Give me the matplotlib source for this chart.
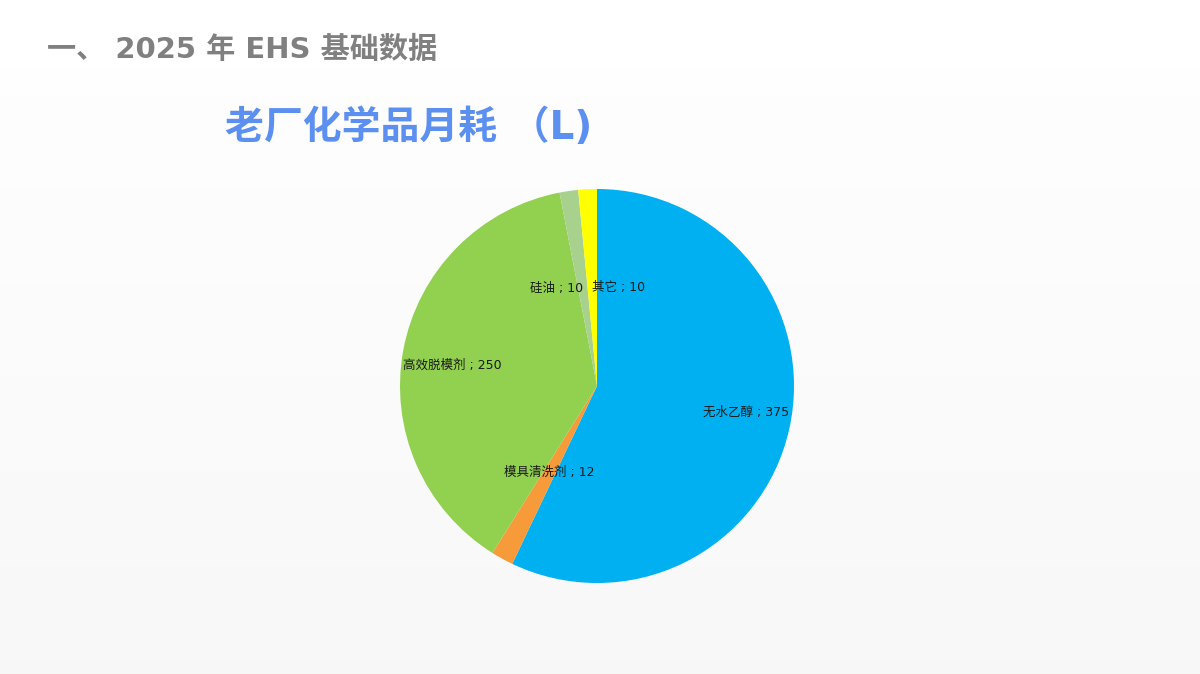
import numpy as np
import matplotlib.pyplot as plt

plt.rcParams['font.family'] = ['DejaVu Sans', 'Noto Sans CJK SC']

labels = ['无水乙醇', '模具清洗剂', '高效脱模剂', '硅油', '其它']
values = [375, 12, 250, 10, 10]
colors = ['#00B0F0', '#F79A3A', '#92D050', '#A9D18E', '#FFFF00']
# label placement: radius fraction, angle shift (deg), alignment
lab_r = [0.77, 0.5, 0.74, 0.5, 0.5]
lab_shift = [2.8, 0, 2.5, 0, 0]
lab_ha = ['center', 'center', 'center', 'right', 'left']

fig = plt.figure(figsize=(12, 6.74), dpi=100)

# background: white band on top, faint grey gradient below
bg = fig.add_axes([0, 0, 1, 1], zorder=-10)
grad = np.linspace(1.0, 0.972, 256)
grad[:26] = 1.0
bg.imshow(np.dstack([grad] * 3).reshape(256, 1, 3), aspect='auto',
          extent=[0, 1, 0, 1], vmin=0, vmax=1)
bg.axis('off')

fig.text(47 / 1200, 1 - 50 / 674, '一、 2025 年 EHS 基础数据', fontsize=21,
         fontweight='bold', color='#808080', va='center', ha='left')
fig.text(225 / 1200, 1 - 128 / 674, '老厂化学品月耗 （L)', fontsize=28,
         fontweight='bold', color='#5B8FF0', va='center', ha='left')

ax = fig.add_axes([400 / 1200, 91 / 674, 394 / 1200, 394 / 674])
wedges, _ = ax.pie(values, colors=colors, startangle=90, counterclock=False,
                   radius=1, wedgeprops=dict(linewidth=0))
ax.set_xlim(-1, 1)
ax.set_ylim(-1, 1)
ax.set_aspect('equal')

for w, lab, v, r, s, ha in zip(wedges, labels, values, lab_r, lab_shift, lab_ha):
    ang = np.deg2rad((w.theta1 + w.theta2) / 2 + s)
    ax.text(r * np.cos(ang), r * np.sin(ang), f'{lab} ; {v}', fontsize=9,
            ha=ha, va='center', color='#1a1a1a')

fig.savefig('out.png', dpi=100)
